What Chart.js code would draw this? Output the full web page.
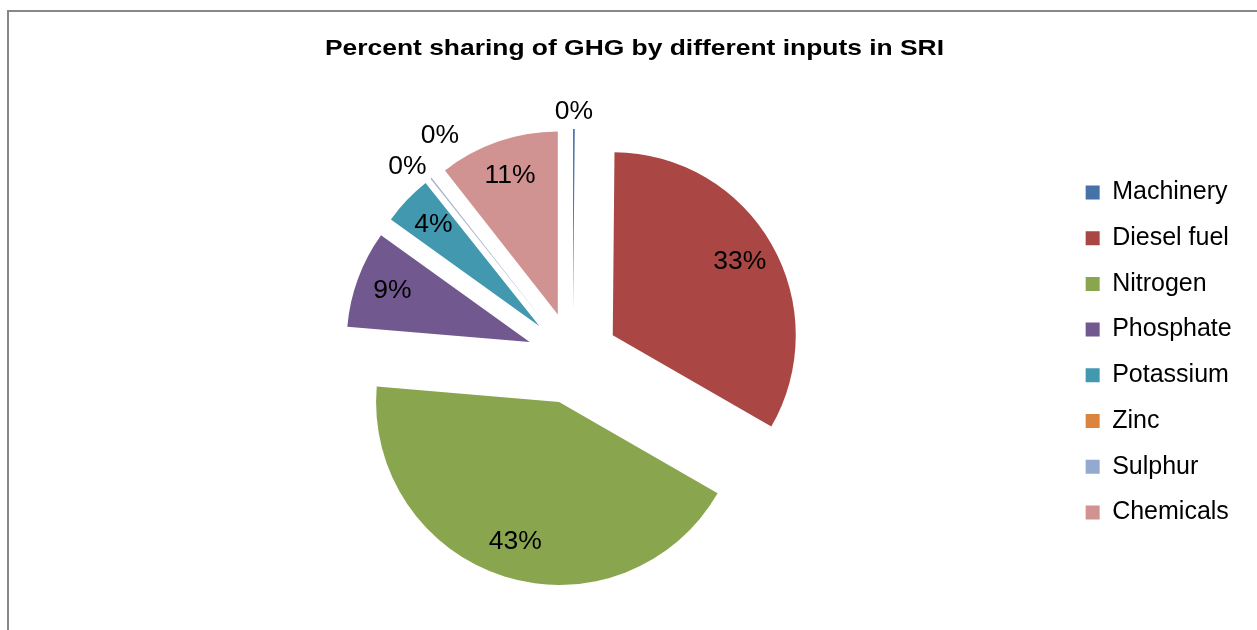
<!DOCTYPE html>
<html>
<head>
<meta charset="utf-8">
<script src="https://cdn.jsdelivr.net/npm/chart.js@4.4.1/dist/chart.umd.min.js"></script>
<style>
  html, body { margin: 0; padding: 0; background: #fff; overflow: hidden; }
  #frame { position: absolute; left: 7px; top: 10px; width: 1300px; height: 700px;
           border-left: 2px solid #878787; border-top: 2px solid #878787; }
  #wrap { position: absolute; left: 0; top: 0; width: 1257px; height: 630px; }
</style>
</head>
<body>
<div id="frame"></div>
<div id="wrap"><canvas id="ghgChart"></canvas></div>
<script>
// data
const chartTitle = "Percent sharing of GHG by different inputs in SRI";
const categories = ["Machinery", "Diesel fuel", "Nitrogen", "Phosphate", "Potassium", "Zinc", "Sulphur", "Chemicals"];
const shares = [0.15, 33.25, 43.1, 8.6, 4.4, 0.02, 0.1, 10.6];
const sliceColors = ["#4572A7", "#AA4643", "#89A54E", "#71588F", "#4198AF", "#DB843D", "#93A9CF", "#D19392"];

const explode = 46;
const fontFamily = '"Liberation Sans", Arial, sans-serif';

// exploded slices: every arc is moved out along its middle angle
const explodePlugin = {
  id: "explode",
  beforeDatasetDraw(chart, args) {
    const ctx = chart.ctx;
    args.meta.data.forEach(arc => {
      const mid = (arc.startAngle + arc.endAngle) / 2;
      ctx.save();
      ctx.translate(Math.cos(mid) * explode, Math.sin(mid) * explode);
      arc.draw(ctx);
      ctx.restore();
    });
    return false;
  }
};

// percent labels
const labelPlugin = {
  id: "pctLabels",
  afterDatasetsDraw(chart) {
    const ctx = chart.ctx;
    const meta = chart.getDatasetMeta(0);
    const total = shares.reduce((a, b) => a + b, 0);
    const items = meta.data.map((arc, i) => {
      const pct = shares[i] / total * 100;
      const inside = pct >= 1;
      return {
        arc: arc,
        text: Math.round(pct) + "%",
        angle: (arc.startAngle + arc.endAngle) / 2,
        dist: inside ? explode + arc.outerRadius * 0.8 : explode + arc.outerRadius + 17,
        inside: inside
      };
    });
    // spread small outside labels that would sit on top of each other
    const outside = items.filter(it => !it.inside);
    const deg = Math.PI / 180;
    const minSep = 10 * deg;
    for (let i = 1; i < outside.length; i++) {
      const gap = outside[i].angle - outside[i - 1].angle;
      if (gap < minSep) {
        const push = (minSep - gap) / 2;
        outside[i - 1].angle -= push - 2.5 * deg;
        outside[i].angle += push + 2.5 * deg;
        outside[i - 1].dist += 7;
        outside[i].dist += 13;
      }
    }
    ctx.save();
    ctx.font = "25px " + fontFamily;
    ctx.fillStyle = "#000";
    ctx.textAlign = "center";
    ctx.textBaseline = "middle";
    items.forEach(it => {
      const x = it.arc.x + Math.cos(it.angle) * it.dist;
      const y = it.arc.y + Math.sin(it.angle) * it.dist;
      ctx.save();
      ctx.translate(x, y);
      ctx.scale(1.06, 1);
      ctx.fillText(it.text, 0, 0);
      ctx.restore();
    });
    ctx.restore();
  }
};

// title, drawn a little wide like the original
const titlePlugin = {
  id: "wideTitle",
  afterDraw(chart) {
    const ctx = chart.ctx;
    ctx.save();
    ctx.font = "bold 22px " + fontFamily;
    ctx.fillStyle = "#000";
    ctx.textAlign = "center";
    ctx.textBaseline = "alphabetic";
    ctx.translate(634.5, 54.5);
    ctx.scale(1.2, 1);
    ctx.fillText(chartTitle, 0, 0);
    ctx.restore();
  }
};

const ctx = document.getElementById("ghgChart").getContext("2d");
new Chart(ctx, {
  type: "pie",
  data: {
    labels: categories,
    datasets: [{
      data: shares,
      backgroundColor: sliceColors,
      borderWidth: 0,
      radius: 183
    }]
  },
  options: {
    responsive: true,
    maintainAspectRatio: false,
    animation: false,
    layout: {
      padding: { left: 80.7, right: 15.3, top: 159.3, bottom: 73.3 }
    },
    plugins: {
      title: { display: false },
      tooltip: { enabled: false },
      legend: {
        position: "right",
        align: "start",
        fullSize: false,
        labels: {
          color: "#000",
          font: { family: fontFamily, size: 25 },
          boxWidth: 14,
          boxHeight: 14,
          padding: 20.7
        }
      }
    }
  },
  plugins: [explodePlugin, labelPlugin, titlePlugin]
});
</script>
</body>
</html>
